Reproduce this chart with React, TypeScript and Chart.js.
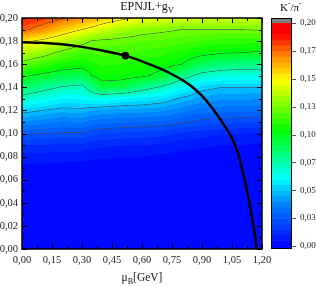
import React, { useEffect, useRef } from 'react';
import { Chart, registerables } from 'chart.js';
Chart.register(...registerables);

// ---- grid coordinates ----
const muGrid = [0, 0.1, 0.2, 0.3, 0.35, 0.4, 0.5, 0.6, 0.7, 0.8, 0.9, 1.0, 1.1, 1.2];
const tGrid = [0, 0.05, 0.06, 0.07, 0.08, 0.09, 0.10, 0.11, 0.12, 0.13, 0.14, 0.15, 0.16, 0.17, 0.18, 0.19, 0.20];

// ---- K-/pi- ratio, one column per muB value (rows follow tGrid) ----
const ratioMu000 = [0, 0, 0.001, 0.003, 0.008, 0.015, 0.026, 0.0395, 0.053, 0.070, 0.086, 0.102, 0.121, 0.137, 0.153, 0.178, 0.187];
const ratioMu010 = [0, 0, 0.001, 0.003, 0.008, 0.015, 0.025, 0.0375, 0.050, 0.065, 0.080, 0.097, 0.114, 0.131, 0.147, 0.170, 0.183];
const ratioMu020 = [0, 0, 0.001, 0.003, 0.007, 0.014, 0.024, 0.035, 0.047, 0.060, 0.074, 0.092, 0.108, 0.122, 0.139, 0.159, 0.177];
const ratioMu030 = [0, 0, 0.001, 0.003, 0.007, 0.014, 0.024, 0.036, 0.048, 0.060, 0.071, 0.090, 0.105, 0.116, 0.129, 0.150, 0.168];
const ratioMu035 = [0, 0, 0.001, 0.002, 0.006, 0.012, 0.022, 0.033, 0.045, 0.064, 0.083, 0.100, 0.108, 0.116, 0.124, 0.146, 0.165];
const ratioMu040 = [0, 0, 0.001, 0.002, 0.006, 0.011, 0.020, 0.032, 0.044, 0.064, 0.094, 0.105, 0.111, 0.117, 0.123, 0.141, 0.160];
const ratioMu050 = [0, 0, 0.001, 0.002, 0.005, 0.010, 0.019, 0.031, 0.043, 0.060, 0.092, 0.1045, 0.110, 0.116, 0.122, 0.133, 0.153];
const ratioMu060 = [0, 0, 0.001, 0.002, 0.005, 0.010, 0.018, 0.030, 0.0425, 0.058, 0.081, 0.102, 0.108, 0.114, 0.120, 0.129, 0.148];
const ratioMu070 = [0, 0, 0.001, 0.002, 0.004, 0.009, 0.017, 0.029, 0.041, 0.055, 0.073, 0.0955, 0.105, 0.112, 0.119, 0.127, 0.145];
const ratioMu080 = [0, 0, 0, 0.001, 0.003, 0.007, 0.014, 0.026, 0.037, 0.048, 0.063, 0.081, 0.100, 0.108, 0.117, 0.125, 0.143];
const ratioMu090 = [0, 0, 0, 0.001, 0.002, 0.006, 0.012, 0.023, 0.033, 0.043, 0.053, 0.070, 0.0885, 0.104, 0.115, 0.125, 0.142];
const ratioMu100 = [0, 0, 0, 0.001, 0.002, 0.005, 0.011, 0.022, 0.032, 0.041, 0.050, 0.067, 0.084, 0.101, 0.113, 0.125, 0.141];
const ratioMu110 = [0, 0, 0, 0.001, 0.002, 0.005, 0.010, 0.021, 0.0315, 0.041, 0.050, 0.066, 0.082, 0.100, 0.113, 0.125, 0.140];
const ratioMu120 = [0, 0, 0, 0.001, 0.002, 0.004, 0.009, 0.020, 0.031, 0.040, 0.050, 0.066, 0.082, 0.098, 0.112, 0.126, 0.140];
const ratioColumns = [ratioMu000, ratioMu010, ratioMu020, ratioMu030, ratioMu035, ratioMu040, ratioMu050,
  ratioMu060, ratioMu070, ratioMu080, ratioMu090, ratioMu100, ratioMu110, ratioMu120];

// ---- phase boundary and critical end point ----
const boundaryMu = [0, 0.1, 0.2, 0.3, 0.4, 0.517, 0.6, 0.7, 0.75, 0.8, 0.85, 0.9, 0.95, 1.0, 1.05, 1.08, 1.11, 1.135, 1.155, 1.167, 1.173];
const boundaryT = [0.179, 0.1785, 0.1772, 0.175, 0.1718, 0.1674, 0.1625, 0.1555, 0.1513, 0.1465, 0.1405, 0.1325, 0.1222, 0.110, 0.096, 0.083, 0.062, 0.042, 0.022, 0.01, 0];
const cepMu = [0.517];
const cepT = [0.1674];

// ---- ticks / levels ----
const xTicks = [0, 0.15, 0.3, 0.45, 0.6, 0.75, 0.9, 1.05, 1.2];
const yTicks = [0, 0.02, 0.04, 0.06, 0.08, 0.1, 0.12, 0.14, 0.16, 0.18, 0.2];
const cbTicks = [0, 0.025, 0.05, 0.075, 0.1, 0.125, 0.15, 0.175, 0.2];
const contourLevels = [0.025, 0.05, 0.075, 0.1, 0.125, 0.15, 0.175];

// ---- palette (style) ----
const PALETTE: number[][] = [
  [0, 0, 0, 255], [0.037, 0, 128, 255], [0.061, 0, 255, 255], [0.082, 0, 255, 128],
  [0.104, 0, 255, 0], [0.127, 128, 255, 0], [0.149, 255, 255, 0], [0.172, 255, 128, 0],
  [0.19, 255, 0, 0], [0.2, 255, 0, 0],
];
const BAND = 0.005;
const FONT = "'Liberation Serif', 'DejaVu Serif', serif";

function paletteColor(v: number): number[] {
  if (v > 0.2) return [128, 128, 128];
  const q = Math.min(0.2, (Math.floor(Math.max(0, v) / BAND) + 0.5) * BAND);
  for (let i = 0; i < PALETTE.length - 1; i++) {
    const a = PALETTE[i], b = PALETTE[i + 1];
    if (q <= b[0]) {
      const f = (q - a[0]) / (b[0] - a[0]);
      return [a[1] + (b[1] - a[1]) * f, a[2] + (b[2] - a[2]) * f, a[3] + (b[3] - a[3]) * f];
    }
  }
  return [255, 0, 0];
}

function findIdx(arr: number[], v: number) {
  let i = 0;
  while (i < arr.length - 2 && v > arr[i + 1]) i++;
  return i;
}
const clamp = (v: number, a: number, b: number) => Math.max(a, Math.min(b, v));

function sampleRatio(mu: number, t: number) {
  const i = findIdx(muGrid, mu), j = findIdx(tGrid, t);
  const fx = clamp((mu - muGrid[i]) / (muGrid[i + 1] - muGrid[i]), 0, 1);
  const fy = clamp((t - tGrid[j]) / (tGrid[j + 1] - tGrid[j]), 0, 1);
  const c0 = ratioColumns[i], c1 = ratioColumns[i + 1];
  const a = c0[j] * (1 - fy) + c0[j + 1] * fy;
  const b = c1[j] * (1 - fy) + c1[j + 1] * fy;
  return a * (1 - fx) + b * fx;
}

function nearestLevel(v: number) {
  let best = contourLevels[0];
  for (const l of contourLevels) if (Math.abs(v - l) < Math.abs(v - best)) best = l;
  return best;
}

const fmt = (v: number) => v.toFixed(2).replace('.', ',');

const heatmapPlugin = {
  id: 'heatmap',
  beforeDatasetsDraw(chart: any) {
    const { ctx, chartArea: ca, scales } = chart;
    const x0 = Math.round(ca.left), y0 = Math.round(ca.top);
    const w = Math.round(ca.right) - x0, h = Math.round(ca.bottom) - y0;
    const vals = new Float64Array(w * h);
    for (let py = 0; py < h; py++) {
      const t = scales.y.getValueForPixel(y0 + py + 0.5);
      for (let px = 0; px < w; px++) {
        const mu = scales.x.getValueForPixel(x0 + px + 0.5);
        vals[py * w + px] = sampleRatio(mu, t);
      }
    }
    const img = ctx.createImageData(w, h);
    for (let py = 0; py < h; py++) {
      for (let px = 0; px < w; px++) {
        const k = py * w + px;
        const v = vals[k];
        let c = paletteColor(v);
        const kl = px > 0 ? k - 1 : k, kr = px < w - 1 ? k + 1 : k;
        const ku = py > 0 ? k - w : k, kd = py < h - 1 ? k + w : k;
        const gx = (vals[kr] - vals[kl]) / Math.max(1, (px < w - 1 ? 1 : 0) + (px > 0 ? 1 : 0));
        const gy = (vals[kd] - vals[ku]) / Math.max(1, (py < h - 1 ? 1 : 0) + (py > 0 ? 1 : 0));
        const g = Math.hypot(gx, gy);
        const L = nearestLevel(v);
        if (g > 1e-7) {
          const d = Math.abs(v - L) / g;
          const a = clamp(1 - d / 0.7, 0, 1) * 0.7;
          if (a > 0) c = [c[0] * (1 - a) + 70 * a, c[1] * (1 - a) + 70 * a, c[2] * (1 - a) + 70 * a];
        }
        img.data[k * 4] = c[0];
        img.data[k * 4 + 1] = c[1];
        img.data[k * 4 + 2] = c[2];
        img.data[k * 4 + 3] = 255;
      }
    }
    ctx.putImageData(img, x0, y0);
  },
  afterDatasetsDraw(chart: any) {
    const { ctx, chartArea: ca, scales } = chart;
    ctx.save();
    ctx.strokeStyle = '#000';
    ctx.lineWidth = 1.5;
    ctx.strokeRect(ca.left, ca.top, ca.right - ca.left, ca.bottom - ca.top);
    ctx.lineWidth = 1;
    ctx.beginPath();
    const major = 5, minor = 3;
    xTicks.forEach((v, i) => {
      const px = Math.round(scales.x.getPixelForValue(v)) + 0.5;
      ctx.moveTo(px, ca.bottom); ctx.lineTo(px, ca.bottom - major);
      ctx.moveTo(px, ca.top); ctx.lineTo(px, ca.top + major);
      if (i < xTicks.length - 1) {
        const pm = Math.round(scales.x.getPixelForValue((v + xTicks[i + 1]) / 2)) + 0.5;
        ctx.moveTo(pm, ca.bottom); ctx.lineTo(pm, ca.bottom - minor);
        ctx.moveTo(pm, ca.top); ctx.lineTo(pm, ca.top + minor);
      }
    });
    yTicks.forEach((v, i) => {
      const py = Math.round(scales.y.getPixelForValue(v)) + 0.5;
      ctx.moveTo(ca.left, py); ctx.lineTo(ca.left + major, py);
      ctx.moveTo(ca.right, py); ctx.lineTo(ca.right - major, py);
      if (i < yTicks.length - 1) {
        const pm = Math.round(scales.y.getPixelForValue((v + yTicks[i + 1]) / 2)) + 0.5;
        ctx.moveTo(ca.left, pm); ctx.lineTo(ca.left + minor, pm);
        ctx.moveTo(ca.right, pm); ctx.lineTo(ca.right - minor, pm);
      }
    });
    ctx.stroke();
    ctx.restore();
  },
  afterDraw(chart: any) {
    const { ctx, chartArea: ca, scales } = chart;
    const cb = scales.cb;
    ctx.save();
    const left = Math.round(ca.right) + 9, right = Math.round(ca.right) + 30;
    const yTop = ca.top, yBot = ca.bottom;
    const y0 = cb.getPixelForValue(0), y20 = cb.getPixelForValue(0.2);
    let c = paletteColor(0);
    ctx.fillStyle = `rgb(${c[0]},${c[1]},${c[2]})`;
    ctx.fillRect(left, y0, right - left, yBot - y0);
    for (let v = 0; v < 0.2 - 1e-9; v += BAND) {
      c = paletteColor(v + BAND / 2);
      const ya = cb.getPixelForValue(v + BAND), yb = cb.getPixelForValue(v);
      ctx.fillStyle = `rgb(${Math.round(c[0])},${Math.round(c[1])},${Math.round(c[2])})`;
      ctx.fillRect(left, ya, right - left, yb - ya + 0.5);
    }
    ctx.fillStyle = 'rgb(128,128,128)';
    ctx.fillRect(left, yTop, right - left, y20 - yTop);
    ctx.strokeStyle = '#000';
    ctx.lineWidth = 1;
    ctx.strokeRect(left + 0.5, yTop + 0.5, right - left - 1, yBot - yTop - 1);
    ctx.strokeStyle = '#555';
    ctx.beginPath();
    cbTicks.forEach((v) => {
      const py = Math.round(cb.getPixelForValue(v)) + 0.5;
      ctx.moveTo(right, py); ctx.lineTo(right + 4, py);
    });
    ctx.stroke();

    ctx.fillStyle = '#111';
    ctx.textBaseline = 'alphabetic';
    const drawParts = (parts: { t: string; size: number; dy: number }[], cx: number, y: number, align: 'center' | 'left') => {
      let total = 0;
      parts.forEach((p) => { ctx.font = `${p.size}px ${FONT}`; total += ctx.measureText(p.t).width; });
      let x = align === 'center' ? cx - total / 2 : cx;
      parts.forEach((p) => {
        ctx.font = `${p.size}px ${FONT}`;
        ctx.textAlign = 'left';
        ctx.fillText(p.t, x, y + p.dy);
        x += ctx.measureText(p.t).width;
      });
    };
    drawParts([{ t: 'EPNJL+g', size: 12, dy: 0 }, { t: 'V', size: 8.5, dy: 3 }], 147, 10, 'center');
    drawParts([{ t: 'μ', size: 11.5, dy: 0 }, { t: 'B', size: 8, dy: 3 }, { t: '[GeV]', size: 11.5, dy: 0 }], 142, 281, 'center');
    drawParts([{ t: 'K', size: 11, dy: 0 }, { t: '-', size: 7.5, dy: -5 }, { t: '/π', size: 11, dy: 0 }, { t: '-', size: 7.5, dy: -5 }], 280, 11, 'left');
    ctx.restore();
  },
};

const noPad = (s: any) => { s.paddingTop = 0; s.paddingBottom = 0; };

export default function App() {
  const ref = useRef<HTMLCanvasElement>(null);
  useEffect(() => {
    if (!ref.current) return;
    const tickFont = { family: FONT, size: 10.5 };
    const cbFont = { family: FONT, size: 9 };
    const chart = new Chart(ref.current, {
      type: 'scatter',
      data: {
        datasets: [
          {
            data: boundaryMu.map((m, i) => ({ x: m, y: boundaryT[i] })),
            showLine: true,
            borderColor: '#000',
            borderWidth: 2.5,
            pointRadius: 0,
            cubicInterpolationMode: 'monotone',
          },
          {
            data: cepMu.map((m, i) => ({ x: m, y: cepT[i] })),
            pointRadius: 3.5,
            backgroundColor: '#000',
            borderColor: '#000',
          },
        ],
      },
      options: {
        responsive: false,
        animation: false,
        events: [],
        layout: { padding: { top: 18, left: 0, right: 0, bottom: 0 } },
        plugins: { legend: { display: false }, tooltip: { enabled: false }, title: { display: false } },
        scales: {
          x: {
            type: 'linear', position: 'bottom', min: 0, max: 1.2,
            grid: { display: false, drawTicks: false }, border: { display: false },
            afterBuildTicks: (s: any) => { s.ticks = xTicks.map((v) => ({ value: v })); },
            afterFit: (s: any) => { s.height = 37; s.paddingLeft = 0; s.paddingRight = 0; },
            ticks: { callback: (v: any) => fmt(Number(v)), font: tickFont, color: '#222', padding: 5, autoSkip: false, maxRotation: 0 },
          },
          y: {
            type: 'linear', position: 'left', min: 0, max: 0.2,
            grid: { display: false, drawTicks: false }, border: { display: false },
            afterBuildTicks: (s: any) => { s.ticks = yTicks.map((v) => ({ value: v })); },
            afterFit: (s: any) => { s.width = 22; noPad(s); },
            ticks: { callback: (v: any) => fmt(Number(v)), font: tickFont, color: '#222', padding: 4, autoSkip: false },
          },
          cb: {
            type: 'linear', position: 'right', min: -0.0027, max: 0.2045,
            grid: { display: false, drawTicks: false }, border: { display: false },
            afterBuildTicks: (s: any) => { s.ticks = cbTicks.map((v) => ({ value: v })); },
            afterFit: (s: any) => { s.width = 54; noPad(s); },
            ticks: { callback: (v: any) => fmt(Number(v)), font: cbFont, color: '#222', padding: 38, autoSkip: false },
          },
        },
      } as any,
      plugins: [heatmapPlugin],
    });
    return () => chart.destroy();
  }, []);
  return (
    <div style={{ position: 'fixed', left: 0, top: 0, width: 316, height: 286, background: '#fff' }}>
      <canvas ref={ref} width={316} height={286} />
    </div>
  );
}
